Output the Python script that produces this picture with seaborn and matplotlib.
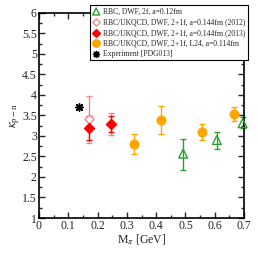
import numpy as np
import pandas as pd
import matplotlib
matplotlib.use("Agg")
import matplotlib.pyplot as plt
import seaborn as sns
from matplotlib.ticker import MultipleLocator, FormatStrFormatter

sns.set_style("ticks")
plt.rcParams['font.family'] = ['Liberation Serif', 'DejaVu Serif']
plt.rcParams['mathtext.fontset'] = 'stix'

# Data
rbc_x = [0.492, 0.607, 0.695]
rbc_y = [2.57, 2.90, 3.31]
rbc_lo = [2.18, 2.68, 3.19]
rbc_hi = [2.92, 3.09, 3.47]

r12_x = [0.170, 0.247]
r12_y = [3.41, 3.29]
r12_lo = [2.84, 3.02]
r12_hi = [3.98, 3.57]

r13_x = [0.170, 0.247]
r13_y = [3.19, 3.29]
r13_lo = [2.90, 3.10]
r13_hi = [3.49, 3.49]

l24_x = [0.325, 0.415, 0.556, 0.667]
l24_y = [2.80, 3.39, 3.10, 3.54]
l24_lo = [2.55, 3.04, 2.90, 3.37]
l24_hi = [3.06, 3.73, 3.29, 3.71]

exp_x = [0.135]
exp_y = [3.71]

labels = ["RBC, DWF, 2f, a=0.12fm",
          "RBC/UKQCD, DWF, 2+1f, a=0.144fm (2012)",
          "RBC/UKQCD, DWF, 2+1f, a=0.144fm (2013)",
          "RBC/UKQCD, DWF, 2+1f, L24, a=0.114fm",
          "Experiment [PDG013]"]

fig = plt.figure(figsize=(2.58, 2.58), dpi=100)
ax = fig.add_axes([0.151, 0.155, 0.795, 0.795])

green = '#2ca02c'
pink = '#f08a8a'
red = '#ff0000'
orange = '#ffa500'

def errs(y, lo, hi):
    y = np.array(y); return [y - np.array(lo), np.array(hi) - y]

ax.errorbar(rbc_x, rbc_y, yerr=errs(rbc_y, rbc_lo, rbc_hi), fmt='none', ecolor=green, elinewidth=1.0, capsize=2.5, capthick=1.0, clip_on=False, zorder=2)
ax.errorbar(r12_x, r12_y, yerr=errs(r12_y, r12_lo, r12_hi), fmt='none', ecolor=pink, elinewidth=1.0, capsize=2.5, capthick=1.0, zorder=2)
ax.errorbar(r13_x, r13_y, yerr=errs(r13_y, r13_lo, r13_hi), fmt='none', ecolor=red, elinewidth=1.0, capsize=2.5, capthick=1.0, zorder=2)
ax.errorbar(l24_x, l24_y, yerr=errs(l24_y, l24_lo, l24_hi), fmt='none', ecolor=orange, elinewidth=1.0, capsize=2.5, capthick=1.0, zorder=2)

h1 = ax.scatter(rbc_x, rbc_y, marker='^', s=40, facecolors='none', edgecolors=green, linewidths=1.0, clip_on=False, zorder=3, label=labels[0])
h2 = ax.scatter(r12_x, r12_y, marker='D', s=22, facecolors='white', edgecolors=pink, linewidths=1.0, zorder=3, label=labels[1])
h3 = ax.scatter(r13_x, r13_y, marker='D', s=26, facecolors=red, edgecolors=red, linewidths=1.0, zorder=4, label=labels[2])
df = pd.DataFrame({'x': l24_x, 'y': l24_y})
sns.scatterplot(data=df, x='x', y='y', ax=ax, marker='o', s=45, color=orange, edgecolor=orange, linewidth=0.5, zorder=4, legend=False)
h4 = ax.scatter([], [], marker='o', s=45, color=orange, label=labels[3])
h5 = ax.scatter(exp_x, exp_y, marker=(8, 2, 0), s=28, color='black', linewidths=1.1, zorder=4, label=labels[4])

ax.set_xlim(0, 0.7)
ax.set_ylim(1, 6)
ax.xaxis.set_major_locator(MultipleLocator(0.1))
ax.xaxis.set_minor_locator(MultipleLocator(0.05))
ax.yaxis.set_major_locator(MultipleLocator(0.5))
ax.yaxis.set_minor_locator(MultipleLocator(0.25))
ax.xaxis.set_major_formatter(FormatStrFormatter('%g'))
ax.yaxis.set_major_formatter(FormatStrFormatter('%g'))
ax.tick_params(which='both', direction='in', top=True, right=True, labelsize=8.5, width=1.0, pad=1.5)
ax.tick_params(which='major', length=4)
ax.tick_params(which='minor', length=2)
for s in ax.spines.values():
    s.set_linewidth(1.2)
    s.set_color('black')

ax.set_xlabel(r'M$_\pi$ [GeV]', fontsize=8.5, labelpad=0)
ax.set_ylabel(r'$\kappa_{\mathrm{p-n}}$', fontsize=9, labelpad=0)

leg = fig.legend(handles=[h1, h2, h3, h4, h5], loc='upper left', bbox_to_anchor=(0.349, 0.98),
                 fontsize=5.5, frameon=True, fancybox=False, edgecolor='black', framealpha=1,
                 handletextpad=0.4, borderpad=0.3, labelspacing=0.35, handlelength=1.0,
                 markerscale=0.8, borderaxespad=0)
leg.get_frame().set_linewidth(0.8)

fig.savefig('out.png', dpi=100)
